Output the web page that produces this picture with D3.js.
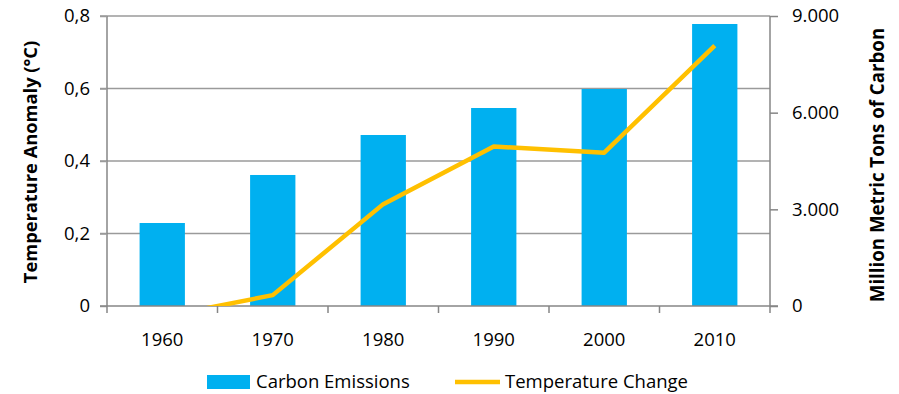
<!DOCTYPE html>
<html>
<head>
<meta charset="utf-8">
<script src="https://cdn.jsdelivr.net/npm/d3@7"></script>
<style>
  body { margin: 0; background: #fff; }
  svg text { font-family: "Open Sans", sans-serif; fill: #000; }
</style>
</head>
<body>
<svg id="chart" width="899" height="394"></svg>
<script>
let years = ["1960", "1970", "1980", "1990", "2000", "2010"];
let emissions = [2576, 4066, 5307, 6145, 6734, 8752];
let tempAnomaly = [-0.03, 0.03, 0.281, 0.44, 0.423, 0.718];
let leftTicks = [0, 0.2, 0.4, 0.6, 0.8];
let rightTicks = [0, 3000, 6000, 9000];

function render() {
    let svg = d3.select("#chart");
    let margin = { top: 16, right: 129, bottom: 88, left: 107 };
    let width = 899 - margin.left - margin.right;
    let height = 394 - margin.top - margin.bottom;
    let fontSize = "18.5px";

    let xScale = d3.scaleBand().domain(years).range([0, width]);
    let yLeft = d3.scaleLinear().domain([0, 0.8]).range([height, 0]);
    let yRight = d3.scaleLinear().domain([0, 9000]).range([height, 0]);
    let fmtLeft = d => d3.format(".1f")(d).replace(".", ",").replace(/^0,0$/, "0");
    let fmtRight = d => d === 0 ? "0" : d3.format(",")(d).replace(/,/g, ".");

    let g = svg.append("g")
        .attr("transform", "translate(" + margin.left + "," + margin.top + ")");

    svg.append("defs").append("clipPath").attr("id", "plot")
        .append("rect").attr("width", width).attr("height", height);

    // gridlines (they stick out left as tick marks)
    g.selectAll(".grid")
        .data(leftTicks.filter(d => d > 0))
        .enter()
        .append("line")
        .attr("x1", -7)
        .attr("x2", width)
        .attr("y1", d => yLeft(d))
        .attr("y2", d => yLeft(d))
        .attr("stroke", "#9a9a9a")
        .attr("stroke-width", 1.5);

    // bars
    let barW = xScale.bandwidth() * 0.41;
    g.selectAll(".bar")
        .data(years)
        .enter()
        .append("rect")
        .attr("x", (d, i) => xScale(d) + (xScale.bandwidth() - barW) / 2)
        .attr("y", (d, i) => yRight(emissions[i]))
        .attr("width", barW)
        .attr("height", (d, i) => height - yRight(emissions[i]))
        .attr("fill", "#00B0F0");

    // left axis
    let axL = g.append("g")
        .call(d3.axisLeft(yLeft).tickValues(leftTicks).tickSize(7).tickPadding(10).tickFormat(fmtLeft));
    axL.select(".domain").attr("stroke", "#868686").attr("stroke-width", 1.5).attr("d", "M0," + height + "V0");
    axL.selectAll(".tick line").attr("stroke", "#9a9a9a").attr("stroke-width", 1.5);
    axL.selectAll(".tick text").attr("font-size", fontSize).attr("font-family", "'Open Sans', sans-serif");

    // right axis
    let axR = g.append("g")
        .attr("transform", "translate(" + width + ",0)")
        .call(d3.axisRight(yRight).tickValues(rightTicks).tickSize(8).tickPadding(14).tickFormat(fmtRight));
    axR.select(".domain").attr("stroke", "#868686").attr("stroke-width", 1.5).attr("d", "M0," + height + "V0");
    axR.selectAll(".tick line").attr("stroke", "#868686").attr("stroke-width", 1.5);
    axR.selectAll(".tick text").attr("font-size", fontSize).attr("font-family", "'Open Sans', sans-serif");

    // bottom axis
    let axB = g.append("g")
        .attr("transform", "translate(0," + height + ")")
        .call(d3.axisBottom(xScale).tickSize(0).tickPadding(27));
    axB.select(".domain").attr("stroke", "#868686").attr("stroke-width", 1.5).attr("d", "M-7,0H" + (width + 8));
    axB.selectAll(".tick text").attr("font-size", fontSize).attr("font-family", "'Open Sans', sans-serif");
    g.append("g").selectAll(".xtick")
        .data(years.concat(["end"]))
        .enter()
        .append("line")
        .attr("x1", (d, i) => i * xScale.step())
        .attr("x2", (d, i) => i * xScale.step())
        .attr("y1", height)
        .attr("y2", height + 7)
        .attr("stroke", "#868686")
        .attr("stroke-width", 1.5);

    // temperature line
    let line = d3.line()
        .x((d, i) => xScale(years[i]) + xScale.bandwidth() / 2)
        .y(d => yLeft(d));
    g.append("path")
        .datum(tempAnomaly)
        .attr("clip-path", "url(#plot)")
        .attr("d", line)
        .attr("fill", "none")
        .attr("stroke", "#FFC000")
        .attr("stroke-width", 4.5)
        .attr("stroke-linejoin", "round");

    // axis titles
    svg.append("text")
        .attr("transform", "translate(37,162) rotate(-90)")
        .attr("text-anchor", "middle")
        .attr("font-size", "18.3px")
        .attr("font-weight", "bold")
        .text("Temperature Anomaly (°C)");
    svg.append("text")
        .attr("transform", "translate(884,165) rotate(-90)")
        .attr("text-anchor", "middle")
        .attr("font-size", "18.7px")
        .attr("font-weight", "bold")
        .text("Million Metric Tons of Carbon");

    // legend
    let lg = svg.append("g").attr("transform", "translate(207,382)");
    lg.append("rect").attr("x", 0).attr("y", -7).attr("width", 43).attr("height", 14).attr("fill", "#00B0F0");
    lg.append("text").attr("x", 49).attr("y", 6).attr("font-size", fontSize).text("Carbon Emissions");
    lg.append("line").attr("x1", 248).attr("x2", 293).attr("y1", 0).attr("y2", 0)
        .attr("stroke", "#FFC000").attr("stroke-width", 4.5);
    lg.append("text").attr("x", 298).attr("y", 6).attr("font-size", fontSize).text("Temperature Change");
}

render();
</script>
</body>
</html>
